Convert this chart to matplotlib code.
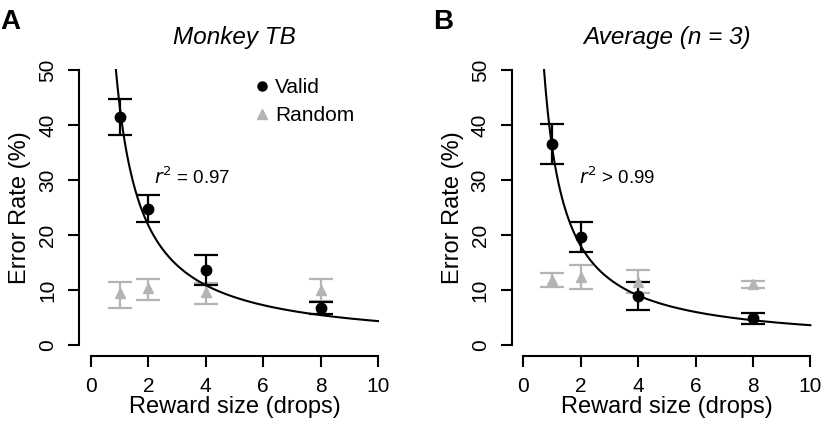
import matplotlib.pyplot as plt
from matplotlib.lines import Line2D
import numpy as np

plt.rcParams["font.family"] = ["Liberation Sans", "DejaVu Sans"]

reward = [1, 2, 4, 8]

# panel A: Monkey TB
a_valid = [41.5, 24.8, 13.6, 6.7]
a_valid_lo = [38.2, 22.4, 10.9, 5.6]
a_valid_hi = [44.8, 27.3, 16.3, 7.9]
a_random = [9.4, 10.3, 9.7, 10.0]
a_random_lo = [6.8, 8.2, 7.5, 8.0]
a_random_hi = [11.5, 12.0, 11.2, 12.0]
a_fit_k = 43.5  # error = k / reward

# panel B: Average (n = 3)
b_valid = [36.5, 19.6, 8.9, 5.0]
b_valid_lo = [32.9, 16.9, 6.4, 3.9]
b_valid_hi = [40.1, 22.4, 11.5, 5.9]
b_random = [11.8, 12.4, 11.5, 11.1]
b_random_lo = [10.5, 10.1, 9.4, 10.3]
b_random_hi = [13.1, 14.5, 13.6, 11.6]
b_fit_k = 36.0

GRAY = "#b4b4b4"


def draw_panel(ax, valid, vlo, vhi, rand, rlo, rhi, fit_k, title, r2_text, r2_x, letter, legend):
    err_kw = dict(capsize=8.5, elinewidth=1.6, capthick=1.6, linestyle="none")
    rand = np.asarray(rand)
    ax.errorbar(reward, rand, yerr=[rand - rlo, np.asarray(rhi) - rand],
                color=GRAY, marker="^", markersize=7.5, **err_kw)
    valid = np.asarray(valid)
    ax.errorbar(reward, valid, yerr=[valid - vlo, np.asarray(vhi) - valid],
                color="black", marker="o", markersize=7.5, **err_kw)

    xs = np.linspace(fit_k / 50.0, 10, 300)
    ax.plot(xs, fit_k / xs, color="black", lw=1.5)

    ax.text(r2_x, 30.5, r2_text, fontsize=13.5, va="center")

    ax.set_xlim(-0.4, 10.4)
    ax.set_ylim(-2, 52)
    ax.spines[["top", "right"]].set_visible(False)
    ax.spines["left"].set_bounds(0, 50)
    ax.spines["bottom"].set_bounds(0, 10)
    for s in ("left", "bottom"):
        ax.spines[s].set_linewidth(1.5)
    ax.set_xticks([0, 2, 4, 6, 8, 10])
    ax.set_yticks([0, 10, 20, 30, 40, 50])
    ax.tick_params(length=8, width=1.5, labelsize=15)
    ax.tick_params(axis="x", pad=7)
    ax.tick_params(axis="y", pad=8)
    for lab in ax.get_yticklabels():
        lab.set_rotation(90)
        lab.set_va("center")
    ax.set_xlabel("Reward size (drops)", fontsize=17, labelpad=0)
    ax.set_ylabel("Error Rate (%)", fontsize=17, labelpad=5)
    ax.set_title(title, fontsize=17.5, style="italic", pad=11)
    ax.text(-0.255, 1.17, letter, transform=ax.transAxes, fontsize=20,
            fontweight="bold", va="top", ha="left")

    if legend:
        handles = [
            Line2D([], [], color="black", marker="o", linestyle="none", markersize=6.5),
            Line2D([], [], color=GRAY, marker="^", linestyle="none", markersize=6.5),
        ]
        ax.legend(handles, ["Valid", "Random"], loc="upper left",
                  bbox_to_anchor=(0.507, 1.0), frameon=False, fontsize=15,
                  handlelength=0.6, handletextpad=0.35, labelspacing=0.45)


fig = plt.figure(figsize=(8.27, 4.23), dpi=100)
ax_a = fig.add_axes([0.0961, 0.1584, 0.3748, 0.702])
ax_b = fig.add_axes([0.619, 0.1584, 0.3748, 0.702])

draw_panel(ax_a, a_valid, a_valid_lo, a_valid_hi, a_random, a_random_lo, a_random_hi,
           a_fit_k, "Monkey TB", r"$r^2$ = 0.97", 2.2, "A", True)
draw_panel(ax_b, b_valid, b_valid_lo, b_valid_hi, b_random, b_random_lo, b_random_hi,
           b_fit_k, "Average (n = 3)", r"$r^2$ > 0.99", 1.95, "B", False)

fig.savefig("out.png", dpi=100)
